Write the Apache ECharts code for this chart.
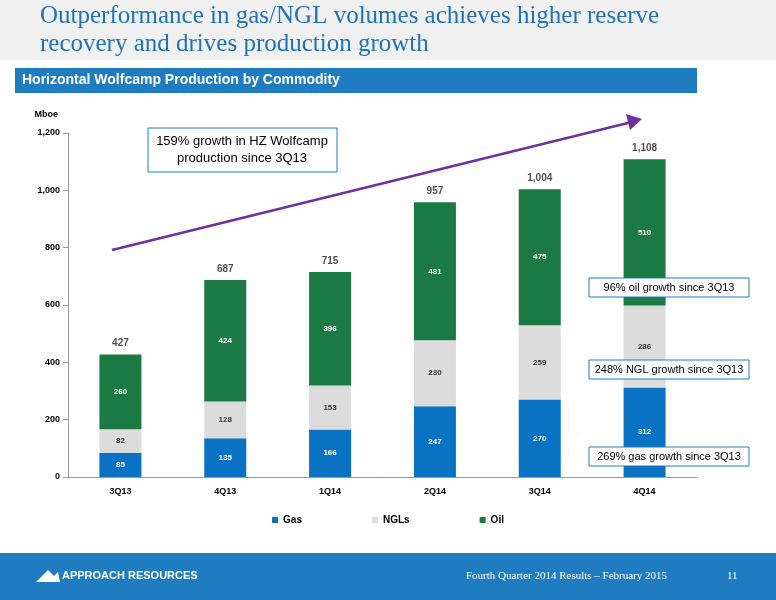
<!DOCTYPE html>
<html><head><meta charset="utf-8">
<script src="https://cdn.jsdelivr.net/npm/echarts@6/dist/echarts.min.js"></script>
<style>html,body{margin:0;padding:0;background:#fff}#c{width:776px;height:600px}</style>
</head><body><div id="c"></div>
<script>
const categories=['3Q13','4Q13','1Q14','2Q14','3Q14','4Q14'];
const gas=[85,135,166,247,270,312];
const ngl=[82,128,153,230,259,286];
const oil=[260,424,396,481,475,510];
const totals=[427,687,715,957,1004,1108];
const yTicks=[0,200,400,600,800,1000,1200];

const chart=echarts.init(document.getElementById('c'));
const lab={show:true,position:'inside',fontSize:8,fontWeight:'bold',fontFamily:'Liberation Sans'};
const g=[
    {type:'rect',shape:{x:0,y:0,width:776,height:60},style:{fill:'#F0F0F0'}},
    {type:'text',left:40,top:2,style:{text:'Outperformance in gas/NGL volumes achieves higher reserve\nrecovery and drives production growth',font:'25px "Liberation Serif"',fill:'#1F73B8',lineHeight:28}},
    {type:'rect',shape:{x:15,y:68,width:682,height:25},style:{fill:'#1F7CC1'}},
    {type:'text',left:22,top:73,style:{text:'Horizontal Wolfcamp Production by Commodity',font:'bold 14px "Liberation Sans"',fill:'#fff'}},
    {type:'line',shape:{x1:112,y1:250,x2:632,y2:122},style:{stroke:'#7030A0',lineWidth:2.5}},
    {type:'polygon',shape:{points:[[642,119],[626,114],[630,130]]},style:{fill:'#7030A0'}},
    {type:'rect',shape:{x:148,y:128,width:189,height:44},style:{fill:'#fff',stroke:'#1F7CC1',lineWidth:1}},
    {type:'text',x:242,y:150,style:{text:'159% growth in HZ Wolfcamp\nproduction since 3Q13',font:'13px "Liberation Sans"',fill:'#000',align:'center',verticalAlign:'middle',lineHeight:17}},
    {type:'rect',shape:{x:589,y:278,width:160,height:19},style:{fill:'#fff',stroke:'#1F7CC1'}},
    {type:'text',x:669,y:288,style:{text:'96% oil growth since 3Q13',font:'11px "Liberation Sans"',fill:'#000',align:'center',verticalAlign:'middle'}},
    {type:'rect',shape:{x:589,y:360,width:160,height:19},style:{fill:'#fff',stroke:'#1F7CC1'}},
    {type:'text',x:669,y:370,style:{text:'248% NGL growth since 3Q13',font:'11px "Liberation Sans"',fill:'#000',align:'center',verticalAlign:'middle'}},
    {type:'rect',shape:{x:589,y:447,width:160,height:19},style:{fill:'#fff',stroke:'#1F7CC1'}},
    {type:'text',x:669,y:457,style:{text:'269% gas growth since 3Q13',font:'11px "Liberation Sans"',fill:'#000',align:'center',verticalAlign:'middle'}},
    {type:'rect',shape:{x:0,y:553,width:776,height:47},style:{fill:'#1F7CC1'}},
    {type:'polygon',shape:{points:[[36,582],[48,570],[54,576],[58,572],[60,582]]},style:{fill:'#fff'}},
    {type:'text',left:62,top:570,style:{text:'APPROACH RESOURCES',font:'bold 11px "Liberation Sans"',fill:'#fff'}},
    {type:'text',left:466,top:571,style:{text:'Fourth Quarter 2014 Results – February 2015',font:'11px "Liberation Serif"',fill:'#fff'}},
    {type:'text',left:727,top:571,style:{text:'11',font:'11px "Liberation Serif"',fill:'#fff'}}
].map(e=>Object.assign(e,{z:100}));
chart.setOption({
  animation:false,
  textStyle:{fontFamily:'Liberation Sans'},
  grid:{left:68,right:79,top:133,bottom:123},
  legend:{bottom:70,left:'center',itemWidth:6,itemHeight:6,itemGap:70,icon:'rect',
    data:['Gas','NGLs','Oil'],textStyle:{fontSize:10,fontWeight:'bold',color:'#000'}},
  xAxis:{type:'category',data:categories,axisTick:{show:false},
    axisLine:{lineStyle:{color:'#999'}},axisLabel:{fontSize:9,fontWeight:'bold',color:'#000',margin:10}},
  yAxis:{type:'value',min:0,max:1200,interval:200,splitLine:{show:false},
    axisLine:{show:true,lineStyle:{color:'#999'}},axisTick:{show:true,lineStyle:{color:'#999'}},
    axisLabel:{fontSize:9,fontWeight:'bold',color:'#000',formatter:v=>v.toLocaleString('en-US')},
    name:'Mboe',nameLocation:'end',nameGap:14,nameTextStyle:{fontSize:9,fontWeight:'bold',color:'#000',align:'right',padding:[0,10,0,0]}},
  series:[
    {name:'Gas',type:'bar',stack:'a',barWidth:42,data:gas,itemStyle:{color:'#0A72C2'},label:{...lab,color:'#fff'}},
    {name:'NGLs',type:'bar',stack:'a',data:ngl,itemStyle:{color:'#DCDCDC'},label:{...lab,color:'#333'}},
    {name:'Oil',type:'bar',stack:'a',data:oil,itemStyle:{color:'#1B7A44'},label:{...lab,color:'#fff'}},
    {name:'Total',type:'scatter',data:totals,symbolSize:0,silent:true,
      label:{show:true,position:'top',distance:6,fontSize:10,fontWeight:'bold',color:'#222',formatter:p=>p.value.toLocaleString('en-US')}}
  ],
  graphic:g
});
</script></body></html>
